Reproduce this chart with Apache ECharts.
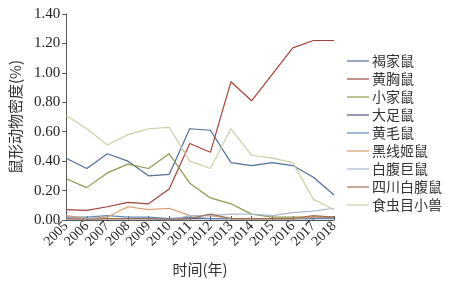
<!DOCTYPE html>
<html><head><meta charset="utf-8">
<script src="https://cdn.jsdelivr.net/npm/echarts@6/dist/echarts.min.js"></script>
<style>html,body{margin:0;padding:0;background:#fff}#c{width:454px;height:284px}</style>
</head><body><div id="c"></div>
<script>
const years = ['2005','2006','2007','2008','2009','2010','2011','2012','2013','2014','2015','2016','2017','2018'];
const yTicks = [0,0.2,0.4,0.6,0.8,1.0,1.2,1.4];
const seriesNames = ['褐家鼠','黄胸鼠','小家鼠','大足鼠','黄毛鼠','黑线姬鼠','白腹巨鼠','四川白腹鼠','食虫目小兽'];
const hejiashu   = [0.42,0.35,0.45,0.40,0.30,0.31,0.62,0.61,0.39,0.37,0.39,0.37,0.29,0.17];
const huangxiong = [0.07,0.065,0.09,0.12,0.11,0.21,0.52,0.46,0.94,0.81,0.99,1.17,1.22,1.22];
const xiaojiashu = [0.28,0.22,0.32,0.38,0.35,0.45,0.25,0.15,0.11,0.04,0.02,0.02,0.02,0.02];
const dazushu    = [0.01,0.01,0.01,0.01,0.01,0.005,0.01,0.01,0.01,0.01,0.01,0.01,0.01,0.02];
const huangmao   = [0.02,0.02,0.03,0.02,0.02,0.01,0.02,0.01,0.01,0.01,0.01,0.01,0.01,0.01];
const heixian    = [0.03,0.01,0.02,0.09,0.07,0.08,0.03,0.03,0.01,0.01,0.01,0.01,0.02,0.02];
const baifujushu = [0.01,0.01,0.01,0.01,0.01,0.0,0.03,0.03,0.04,0.04,0.03,0.05,0.06,0.08];
const sichuan    = [0.01,0.005,0.01,0.01,0.01,0.005,0.01,0.04,0.01,0.01,0.01,0.01,0.03,0.02];
const shichong   = [0.71,0.62,0.51,0.58,0.62,0.63,0.40,0.35,0.62,0.44,0.42,0.39,0.14,0.07];
const dataSets = [hejiashu,huangxiong,xiaojiashu,dazushu,huangmao,heixian,baifujushu,sichuan,shichong];
const colors = ['#4f6d9c','#a3443c','#8c9a4c','#5e4d7c','#5d8cba','#d99b6c','#a9b9d3','#a3704f','#c9d1a1'];

const chart = echarts.init(document.getElementById('c'));
chart.setOption({
  animation:false,
  backgroundColor:'#fff',
  grid:{left:62,right:120,top:14,bottom:64},
  legend:{
    orient:'vertical', left:342, top:49, itemGap:4, itemWidth:22, itemHeight:14,
    icon:'path://M0,6 L22,6 L22,7.2 L0,7.2 Z',
    textStyle:{fontFamily:'Noto Sans CJK SC',fontSize:14,color:'#333',padding:[0,0,0,-2]},
    data:seriesNames
  },
  xAxis:{
    type:'category', data:years, boundaryGap:false,
    name:'时间(年)', nameLocation:'middle', nameGap:42,
    nameTextStyle:{fontFamily:'Noto Sans CJK SC',fontSize:15,color:'#333'},
    axisLine:{lineStyle:{color:'#555'}},
    axisTick:{inside:true,length:4,lineStyle:{color:'#555'}},
    axisLabel:{rotate:45,fontFamily:'Liberation Serif',fontSize:14,color:'#222',margin:4,interval:0}
  },
  yAxis:{
    type:'value', min:0, max:1.4, interval:0.2,
    name:'鼠形动物密度(%)', nameLocation:'middle', nameGap:35,
    nameTextStyle:{fontFamily:'Noto Sans CJK SC',fontSize:15,color:'#333'},
    axisLine:{show:true,lineStyle:{color:'#555'}},
    axisTick:{show:true,length:4,lineStyle:{color:'#555'}},
    splitLine:{show:false},
    axisLabel:{fontFamily:'Liberation Serif',fontSize:15,color:'#222',margin:6,
      formatter:v=>v.toFixed(2)}
  },
  series: seriesNames.map((n,i)=>({
    name:n, type:'line', data:dataSets[i], symbol:'none',
    lineStyle:{width:1.2,color:colors[i]}, itemStyle:{color:colors[i]}
  }))
});
</script></body></html>
